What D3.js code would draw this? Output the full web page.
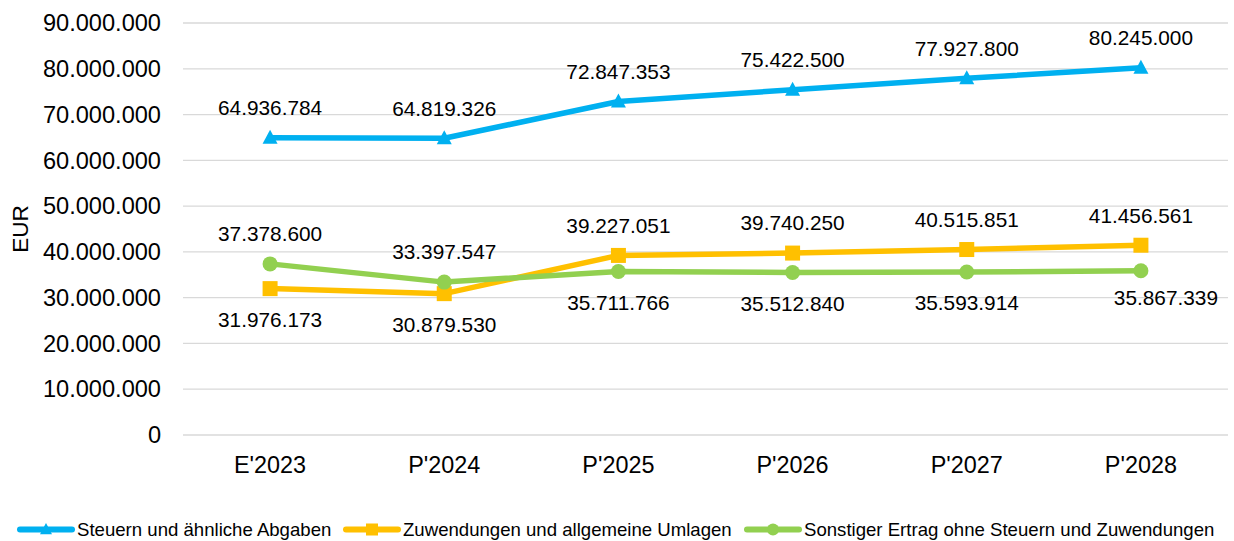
<!DOCTYPE html>
<html>
<head>
<meta charset="utf-8">
<script src="https://cdn.jsdelivr.net/npm/d3@7"></script>
<style>
  body { margin: 0; background: #fff; }
  text { font-family: "Liberation Sans", Arial, sans-serif; fill: #000; }
</style>
</head>
<body>
<div id="chart"></div>
<script>
// categories and series values (EUR)
const categories = ["E'2023", "P'2024", "P'2025", "P'2026", "P'2027", "P'2028"];
const steuern = [64936784, 64819326, 72847353, 75422500, 77927800, 80245000];
const zuwendungen = [31976173, 30879530, 39227051, 39740250, 40515851, 41456561];
const sonstiger = [37378600, 33397547, 35711766, 35512840, 35593914, 35867339];
const yTicks = [0, 10000000, 20000000, 30000000, 40000000, 50000000, 60000000, 70000000, 80000000, 90000000];
const seriesNames = [
  "Steuern und ähnliche Abgaben",
  "Zuwendungen und allgemeine Umlagen",
  "Sonstiger Ertrag ohne Steuern und Zuwendungen"
];

const width = 1234, height = 541;
const margin = { top: 23, right: 6, bottom: 106, left: 183 };
const innerW = width - margin.left - margin.right;
const innerH = height - margin.top - margin.bottom;

const svg = d3.select("#chart").append("svg")
  .attr("width", width)
  .attr("height", height);

const g = svg.append("g")
  .attr("transform", "translate(" + margin.left + "," + margin.top + ")");

const x = d3.scalePoint().domain(categories).range([0, innerW]).padding(0.5);
const y = d3.scaleLinear().domain([0, 90000000]).range([innerH, 0]);

const fmt = (v) => d3.format(",")(v).replace(/,/g, ".");

// gridlines
g.selectAll(".grid")
  .data(yTicks)
  .join("line")
  .attr("x1", 0)
  .attr("x2", innerW)
  .attr("y1", (d) => y(d))
  .attr("y2", (d) => y(d))
  .attr("stroke", "#d9d9d9")
  .attr("stroke-width", 1.3);

// y axis labels
g.selectAll(".ytick")
  .data(yTicks)
  .join("text")
  .attr("x", -22)
  .attr("y", (d) => y(d))
  .attr("dy", "0.35em")
  .attr("text-anchor", "end")
  .style("font-size", "23.6px")
  .text((d) => fmt(d));

// x axis labels
g.selectAll(".xtick")
  .data(categories)
  .join("text")
  .attr("x", (d) => x(d))
  .attr("y", innerH + 30)
  .attr("dy", "0.35em")
  .attr("text-anchor", "middle")
  .style("font-size", "23.4px")
  .text((d) => d);

// y axis title
svg.append("text")
  .attr("transform", "translate(20," + 229 + ") rotate(-90)")
  .attr("text-anchor", "middle")
  .attr("dy", "0.35em")
  .style("font-size", "22.6px")
  .text("EUR");

const series = [
  { name: seriesNames[0], values: steuern, color: "#00b0f0", marker: "triangle",
    place: ["above", "above", "above", "above", "above", "above"] },
  { name: seriesNames[1], values: zuwendungen, color: "#ffc000", marker: "square",
    place: ["below", "below", "above", "above", "above", "above"] },
  { name: seriesNames[2], values: sonstiger, color: "#92d050", marker: "circle",
    place: ["above", "above", "below", "below", "below", "right-below"] }
];

const line = d3.line()
  .x((d, i) => x(categories[i]))
  .y((d) => y(d));

function drawMarker(sel, type, color) {
  if (type === "triangle") {
    sel.append("path").attr("d", "M0,-8 L7.5,6 L-7.5,6 Z").attr("fill", color);
  } else if (type === "square") {
    sel.append("rect").attr("x", -7.5).attr("y", -7.5).attr("width", 15).attr("height", 15).attr("fill", color);
  } else {
    sel.append("circle").attr("r", 7.5).attr("fill", color);
  }
}

series.forEach((s) => {
  g.append("path")
    .datum(s.values)
    .attr("d", line)
    .attr("fill", "none")
    .attr("stroke", s.color)
    .attr("stroke-width", 5.5)
    .attr("stroke-linejoin", "round");

  s.values.forEach((v, i) => {
    const m = g.append("g")
      .attr("transform", "translate(" + x(categories[i]) + "," + y(v) + ")");
    drawMarker(m, s.marker, s.color);
  });
});

// data labels
series.forEach((s) => {
  g.selectAll(null)
    .data(s.values)
    .join("text")
    .attr("x", (d, i) => x(categories[i]) + (s.place[i] === "right-below" ? 25 : 0))
    .attr("y", (d, i) => {
      const p = s.place[i];
      if (p === "above") return y(d) - 30;
      if (p === "right-below") return y(d) + 27;
      return y(d) + 31;
    })
    .attr("dy", "0.35em")
    .attr("text-anchor", "middle")
    .style("font-size", "20.8px")
    .text((d) => fmt(d));
});

// legend
const legendX = [18, 344, 745];
const legend = svg.append("g").attr("transform", "translate(0,529.5)");
series.forEach((s, i) => {
  const lg = legend.append("g").attr("transform", "translate(" + legendX[i] + ",0)");
  lg.append("line")
    .attr("x1", 2).attr("x2", 54)
    .attr("y1", 0).attr("y2", 0)
    .attr("stroke", s.color)
    .attr("stroke-width", 6)
    .attr("stroke-linecap", "round");
  const m = lg.append("g").attr("transform", "translate(28,0) scale(0.8)");
  drawMarker(m, s.marker, s.color);
  lg.append("text")
    .attr("x", 59)
    .attr("y", 0)
    .attr("dy", "0.35em")
    .style("font-size", "18.6px")
    .text(s.name);
});
</script>
</body>
</html>
